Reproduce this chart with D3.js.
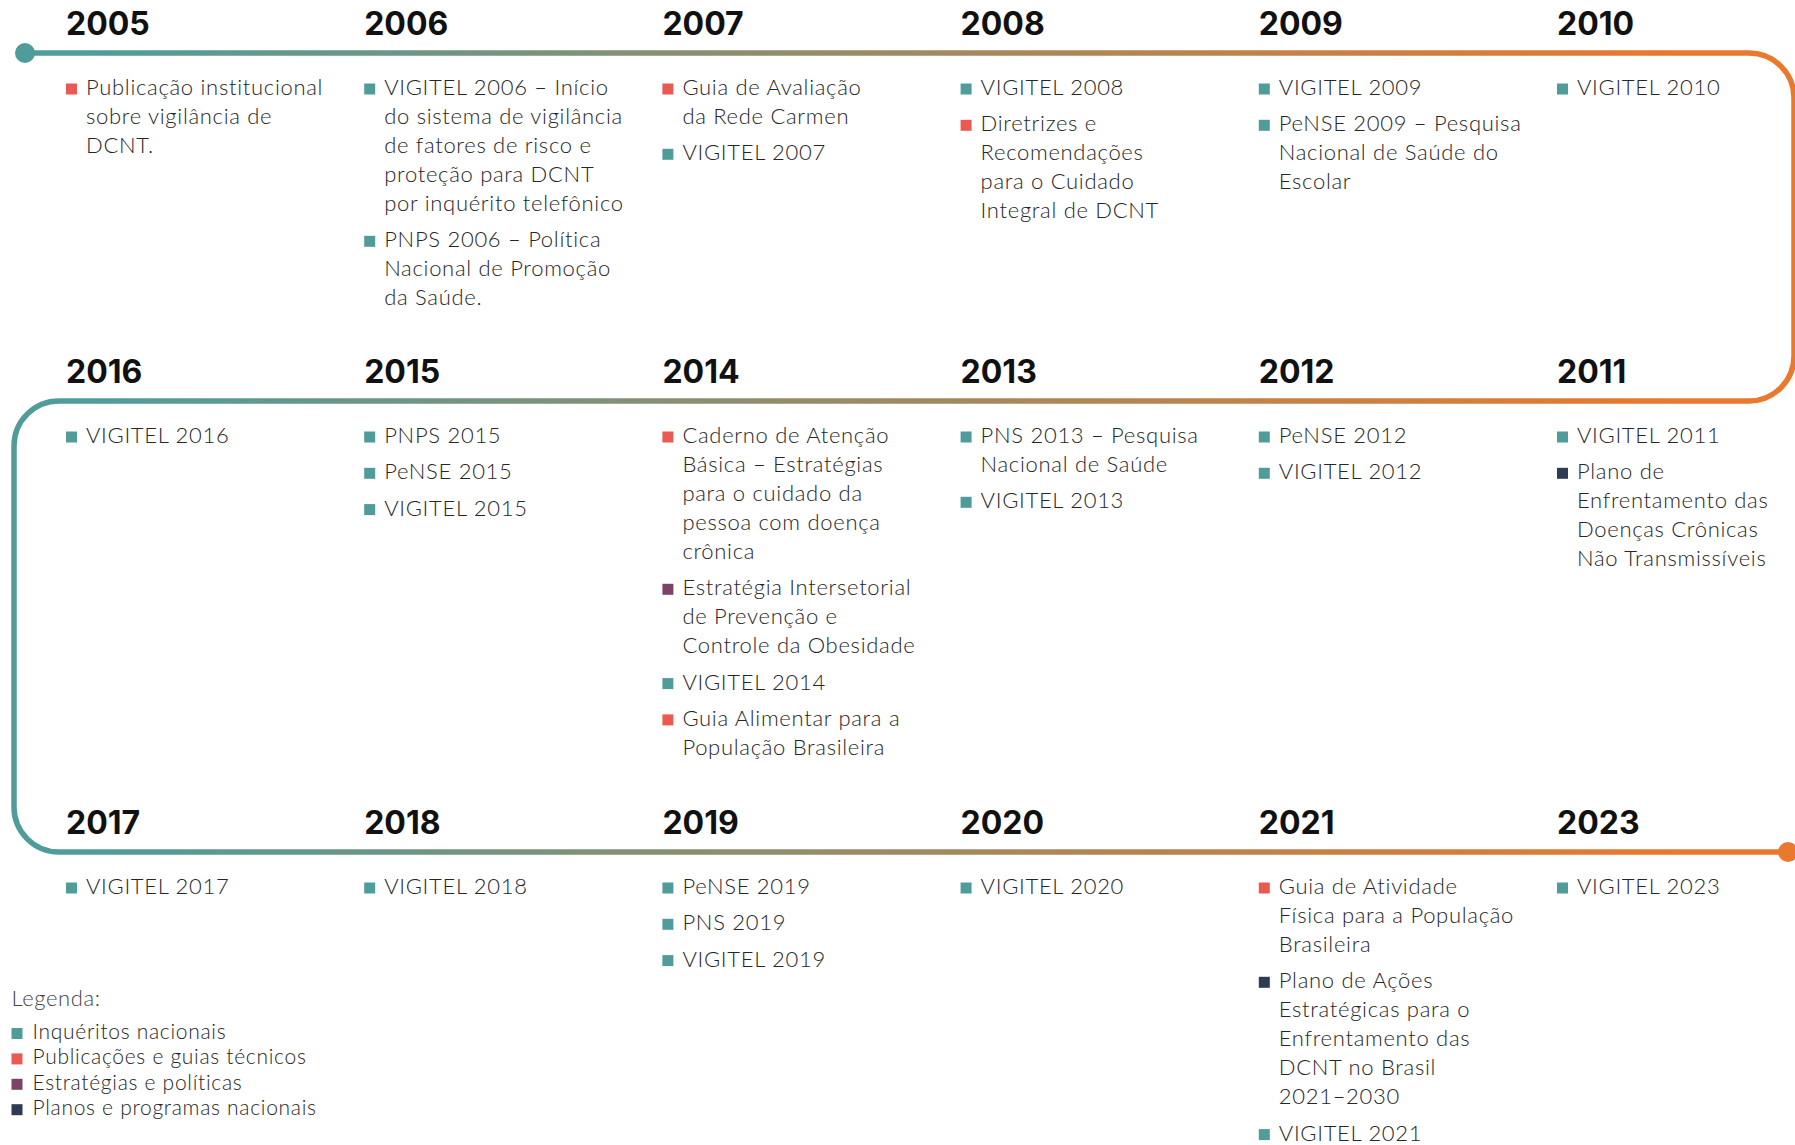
<!DOCTYPE html>
<html>
<head>
<meta charset="utf-8">
<script src="https://cdn.jsdelivr.net/npm/d3@7"></script>
<style>
  html, body { margin: 0; padding: 0; background: #fff; }
  svg { display: block; }
</style>
</head>
<body>
<div id="content"></div>
<script>
// timeline rows (left to right as drawn)
const row1Years = ["2005", "2006", "2007", "2008", "2009", "2010"];
const row2Years = ["2016", "2015", "2014", "2013", "2012", "2011"];
const row3Years = ["2017", "2018", "2019", "2020", "2021", "2023"];

// legend categories
const catKeys = ["inq", "pub", "est", "pla"];
const catLabels = ["Inquéritos nacionais", "Publicações e guias técnicos", "Estratégias e políticas", "Planos e programas nacionais"];

// events: year, category, text (line breaks as in the original)
const events = [
    ["2005", "pub", "Publicação institucional\nsobre vigilância de\nDCNT."],
    ["2006", "inq", "VIGITEL 2006 – Início\ndo sistema de vigilância\nde fatores de risco e\nproteção para DCNT\npor inquérito telefônico"],
    ["2006", "inq", "PNPS 2006 – Política\nNacional de Promoção\nda Saúde."],
    ["2007", "pub", "Guia de Avaliação\nda Rede Carmen"],
    ["2007", "inq", "VIGITEL 2007"],
    ["2008", "inq", "VIGITEL 2008"],
    ["2008", "pub", "Diretrizes e\nRecomendações\npara o Cuidado\nIntegral de DCNT"],
    ["2009", "inq", "VIGITEL 2009"],
    ["2009", "inq", "PeNSE 2009 – Pesquisa\nNacional de Saúde do\nEscolar"],
    ["2010", "inq", "VIGITEL 2010"],
    ["2011", "inq", "VIGITEL 2011"],
    ["2011", "pla", "Plano de\nEnfrentamento das\nDoenças Crônicas\nNão Transmissíveis"],
    ["2012", "inq", "PeNSE 2012"],
    ["2012", "inq", "VIGITEL 2012"],
    ["2013", "inq", "PNS 2013 – Pesquisa\nNacional de Saúde"],
    ["2013", "inq", "VIGITEL 2013"],
    ["2014", "pub", "Caderno de Atenção\nBásica – Estratégias\npara o cuidado da\npessoa com doença\ncrônica"],
    ["2014", "est", "Estratégia Intersetorial\nde Prevenção e\nControle da Obesidade"],
    ["2014", "inq", "VIGITEL 2014"],
    ["2014", "pub", "Guia Alimentar para a\nPopulação Brasileira"],
    ["2015", "inq", "PNPS 2015"],
    ["2015", "inq", "PeNSE 2015"],
    ["2015", "inq", "VIGITEL 2015"],
    ["2016", "inq", "VIGITEL 2016"],
    ["2017", "inq", "VIGITEL 2017"],
    ["2018", "inq", "VIGITEL 2018"],
    ["2019", "inq", "PeNSE 2019"],
    ["2019", "inq", "PNS 2019"],
    ["2019", "inq", "VIGITEL 2019"],
    ["2020", "inq", "VIGITEL 2020"],
    ["2021", "pub", "Guia de Atividade\nFísica para a População\nBrasileira"],
    ["2021", "pla", "Plano de Ações\nEstratégicas para o\nEnfrentamento das\nDCNT no Brasil\n2021–2030"],
    ["2021", "inq", "VIGITEL 2021"],
    ["2023", "inq", "VIGITEL 2023"],
];

const width = 1795, height = 1145;
const bodyFont = "Lato, 'Open Sans', sans-serif";
const yearFont = "Inter, 'Open Sans', sans-serif";
const lineH = 29.0, itemGap = 7.3;

const rows = [row1Years, row2Years, row3Years];
const rowLineY = [53, 401, 852];

const x = d3.scaleLinear().domain([0, 5]).range([66, 1557]);
const color = d3.scaleOrdinal().domain(catKeys)
    .range(["#4f9c9b", "#eb5a52", "#7d4366", "#2f3b52"]);

const svg = d3.select("#content").append("svg")
    .attr("width", width).attr("height", height);

// gradient along the snake
const grad = svg.append("defs").append("linearGradient")
    .attr("id", "snake").attr("gradientUnits", "userSpaceOnUse")
    .attr("x1", 0).attr("x2", width).attr("y1", 0).attr("y2", 0);
grad.append("stop").attr("offset", 0.05).attr("stop-color", "#4f9c9b");
grad.append("stop").attr("offset", 0.93).attr("stop-color", "#e8792d");

// the snake path
const r = 45, xR = 1794, xL = 14;
const p = d3.path();
p.moveTo(25, rowLineY[0]);
p.lineTo(xR - r, rowLineY[0]);
p.arcTo(xR, rowLineY[0], xR, rowLineY[0] + r, r);
p.lineTo(xR, rowLineY[1] - r);
p.arcTo(xR, rowLineY[1], xR - r, rowLineY[1], r);
p.lineTo(xL + r, rowLineY[1]);
p.arcTo(xL, rowLineY[1], xL, rowLineY[1] + r, r);
p.lineTo(xL, rowLineY[2] - r);
p.arcTo(xL, rowLineY[2], xL + r, rowLineY[2], r);
p.lineTo(1788, rowLineY[2]);

svg.append("path").attr("d", p.toString())
    .attr("fill", "none").attr("stroke", "url(#snake)").attr("stroke-width", 5.5);
svg.append("circle").attr("cx", 25).attr("cy", rowLineY[0]).attr("r", 10).attr("fill", "#4f9c9b");
svg.append("circle").attr("cx", 1788).attr("cy", rowLineY[2]).attr("r", 10).attr("fill", "#e8792d");

// years and their events
rows.forEach((yrs, ri) => {
    const ly = rowLineY[ri];
    yrs.forEach((yr, ci) => {
        const g = svg.append("g").attr("transform", `translate(${x(ci)},0)`);
        g.append("text").text(yr)
            .attr("x", 0).attr("y", ly - 18)
            .attr("font-family", yearFont).attr("font-weight", 700)
            .attr("font-size", 32).attr("fill", "#111");

        let cy = ly + 42;
        events.filter(e => e[0] === yr).forEach(e => {
            const lines = e[2].split("\n");
            g.append("rect").attr("x", 0).attr("y", cy - 11.5)
                .attr("width", 11).attr("height", 11).attr("fill", color(e[1]));
            const t = g.append("text")
                .attr("font-family", bodyFont).attr("font-weight", 300)
                .attr("font-size", 22).attr("letter-spacing", 0.7)
                .attr("fill", "#262626");
            t.selectAll("tspan").data(lines).enter().append("tspan")
                .attr("x", 20).attr("y", (d, i) => cy + i * lineH)
                .text(d => d);
            cy += lines.length * lineH + itemGap;
        });
    });
});

// legend
const leg = svg.append("g").attr("transform", "translate(11.5,0)");
leg.append("text").text("Legenda:")
    .attr("x", 0).attr("y", 1005.5)
    .attr("font-family", bodyFont).attr("font-weight", 300)
    .attr("font-size", 22).attr("letter-spacing", 0.6).attr("fill", "#444");
const li = leg.selectAll("g.item").data(catKeys).enter().append("g")
    .attr("class", "item")
    .attr("transform", (d, i) => `translate(0,${1039 + i * 25.4})`);
li.append("rect").attr("x", 0).attr("y", -11).attr("width", 11).attr("height", 11)
    .attr("fill", d => color(d));
li.append("text").text((d, i) => catLabels[i])
    .attr("x", 21).attr("y", 0)
    .attr("font-family", bodyFont).attr("font-weight", 300)
    .attr("font-size", 21).attr("letter-spacing", 0.7).attr("fill", "#262626");
</script>
</body>
</html>
